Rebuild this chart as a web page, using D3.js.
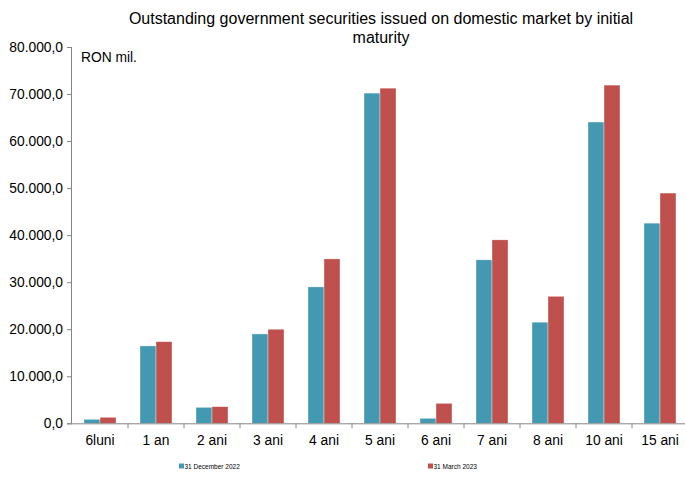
<!DOCTYPE html>
<html>
<head>
<meta charset="utf-8">
<script src="https://cdn.jsdelivr.net/npm/d3@7"></script>
<style>
  body { margin: 0; background: #fff; }
  svg { font-family: "Liberation Sans", Arial, sans-serif; }
</style>
</head>
<body>
<svg id="chart" width="685" height="477"></svg>
<script>
const categories = ["6luni", "1 an", "2 ani", "3 ani", "4 ani", "5 ani", "6 ani", "7 ani", "8 ani", "10 ani", "15 ani"];
const dec2022 = [850, 16450, 3400, 19000, 29000, 70200, 1060, 34750, 21500, 64050, 42550];
const mar2023 = [1280, 17350, 3530, 20000, 34950, 71250, 4250, 39000, 27000, 71900, 48950];
const seriesNames = ["31 December 2022", "31 March 2023"];
const seriesColors = ["#4299b1", "#c0504d"];
const yTicks = [0, 10000, 20000, 30000, 40000, 50000, 60000, 70000, 80000];

const svg = d3.select("#chart");
const plotLeft = 72, plotRight = 688, plotTop = 47, plotBottom = 423.3;

const locale = d3.formatLocale({decimal: ",", thousands: ".", grouping: [3], currency: ["", ""]});
const fmt = locale.format(",.1f");

const x = d3.scaleBand().domain(categories).range([plotLeft, plotRight]).paddingInner(0).paddingOuter(0);
const y = d3.scaleLinear().domain([0, 80000]).range([plotBottom, plotTop]);
const inner = d3.scaleBand().domain([0, 1]).range([x.bandwidth() / 2 - 16, x.bandwidth() / 2 + 16]);

// title
svg.append("text").attr("x", 381).attr("y", 24).attr("text-anchor", "middle")
  .attr("font-size", 16).attr("fill", "#000")
  .text("Outstanding government securities issued on domestic market by initial");
svg.append("text").attr("x", 381).attr("y", 43).attr("text-anchor", "middle")
  .attr("font-size", 16).attr("fill", "#000").text("maturity");

// bars
const series = [dec2022, mar2023];
series.forEach((vals, si) => {
  svg.append("g").selectAll("rect")
    .data(vals)
    .join("rect")
    .attr("x", (d, i) => x(categories[i]) + inner(si))
    .attr("y", d => y(d))
    .attr("width", inner.bandwidth())
    .attr("height", d => y(0) - y(d))
    .attr("fill", seriesColors[si])
    .attr("stroke", "rgba(255,255,255,0.6)")
    .attr("stroke-width", 0.6);
});

// y axis
const yAxis = svg.append("g").attr("transform", `translate(${plotLeft},0)`)
  .call(d3.axisLeft(y).tickValues(yTicks).tickFormat(fmt).tickSize(5).tickPadding(4));
yAxis.select(".domain").attr("stroke", "#868686").attr("d", `M-0.5,${plotBottom}V${plotTop}`);
yAxis.selectAll(".tick line").attr("stroke", "#868686");
yAxis.selectAll(".tick text").attr("font-size", 13.8).attr("fill", "#000")
  .attr("font-family", "Liberation Sans, Arial, sans-serif");

// x axis
const xAxis = svg.append("g").attr("transform", `translate(0,${plotBottom})`)
  .call(d3.axisBottom(x).tickSize(0).tickPadding(12));
xAxis.select(".domain").attr("stroke", "#868686").attr("d", `M${plotLeft - 5},0.5H685`);
xAxis.selectAll(".tick text").attr("font-size", 13.8).attr("fill", "#000")
  .attr("font-family", "Liberation Sans, Arial, sans-serif");
svg.append("g").selectAll("line")
  .data(categories)
  .join("line")
  .attr("x1", d => x(d) + x.bandwidth()).attr("x2", d => x(d) + x.bandwidth())
  .attr("y1", plotBottom).attr("y2", plotBottom + 5)
  .attr("stroke", "#868686");

// unit label
svg.append("text").attr("x", 81).attr("y", 62).attr("font-size", 13.8).attr("fill", "#000").text("RON mil.");

// legend
const legendX = [179, 428];
seriesNames.forEach((name, i) => {
  const g = svg.append("g").attr("transform", `translate(${legendX[i]},468)`);
  g.append("rect").attr("x", 0).attr("y", -4.5).attr("width", 5).attr("height", 5).attr("fill", seriesColors[i]);
  g.append("text").attr("x", 5.5).attr("y", 0.5).attr("font-size", 6.5).attr("fill", "#000").text(name);
});
</script>
</body>
</html>
